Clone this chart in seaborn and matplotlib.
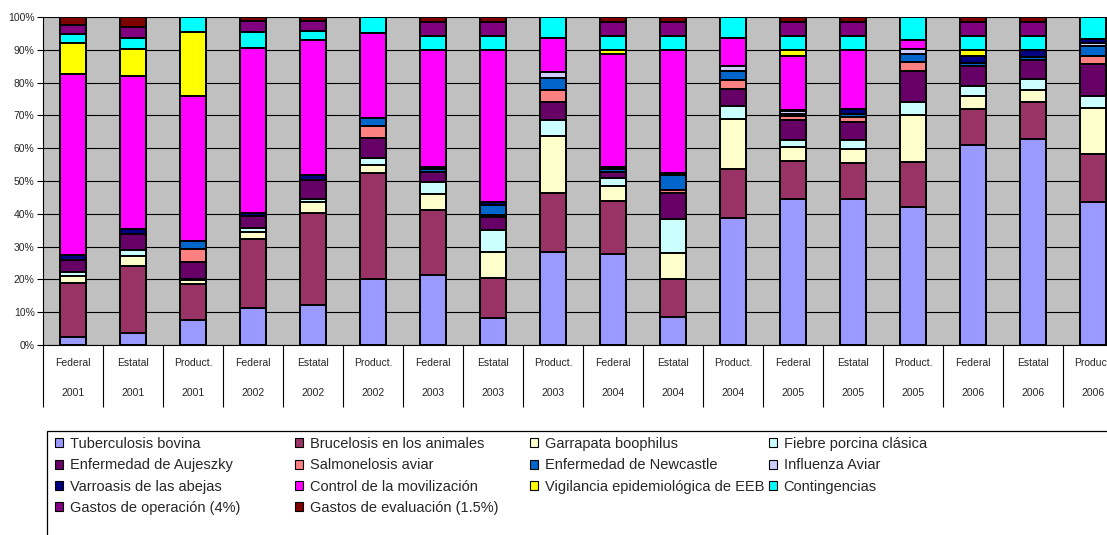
import numpy as np
import pandas as pd
import matplotlib
matplotlib.use("Agg")
import matplotlib.pyplot as plt
import matplotlib.patches as mpatches
from matplotlib.transforms import blended_transform_factory
import seaborn as sns

# ---------------- data ----------------
types = ["Federal", "Estatal", "Product."] * 6
years = ["2001"] * 3 + ["2002"] * 3 + ["2003"] * 3 + ["2004"] * 3 + ["2005"] * 3 + ["2006"] * 3

series_names = [
    "Tuberculosis bovina", "Brucelosis en los animales", "Garrapata boophilus",
    "Fiebre porcina clásica", "Enfermedad de Aujeszky", "Salmonelosis aviar",
    "Enfermedad de Newcastle", "Influenza Aviar", "Varroasis de las abejas",
    "Control de la movilización", "Vigilancia epidemiológica de EEB", "Contingencias",
    "Gastos de operación (4%)", "Gastos de evaluación (1.5%)",
]

tuberculosis = [2.3, 3.6, 7.6, 11.4, 12.1, 20.0, 21.2, 8.4, 28.3, 27.8, 8.4, 38.8, 44.4, 44.4, 42.0, 61.0, 62.7, 43.7]
brucelosis = [16.5, 20.6, 11.0, 20.8, 28.0, 32.3, 19.7, 12.1, 17.9, 16.0, 11.6, 14.8, 11.5, 11.0, 13.9, 10.8, 11.4, 14.5]
garrapata = [2.3, 2.9, 1.0, 2.4, 3.4, 2.5, 4.6, 8.0, 17.5, 4.8, 7.9, 15.2, 4.3, 4.3, 14.1, 4.1, 3.6, 14.2]
fiebre = [1.2, 1.9, 0.3, 1.0, 1.0, 2.2, 3.6, 6.6, 4.9, 2.2, 10.4, 4.1, 2.3, 2.8, 4.1, 3.1, 3.3, 3.5]
aujeszky = [3.6, 4.8, 5.4, 3.7, 5.8, 6.1, 3.2, 4.2, 5.5, 1.8, 7.9, 5.0, 6.1, 5.6, 9.3, 6.1, 5.9, 9.8]
salmonelosis = [0, 0, 3.7, 0, 0, 3.7, 0, 0.5, 3.6, 0, 1.1, 2.9, 1.2, 1.3, 3.0, 0, 0, 2.4]
newcastle = [0, 0, 2.6, 0, 0, 2.5, 0.8, 3.1, 3.6, 1.2, 4.4, 2.6, 0.6, 1.0, 2.3, 1.0, 1.0, 3.1]
influenza = [0, 0, 0, 0, 0, 0, 0, 0, 1.9, 0, 0, 1.7, 0.8, 0, 1.4, 0, 0, 1.0]
varroasis = [1.4, 1.6, 0, 0.8, 1.5, 0, 0.8, 0.8, 0, 0.4, 0.8, 0, 0.4, 1.4, 0, 2.0, 2.0, 1.0]
control = [55.4, 46.7, 43.8, 50.6, 41.2, 25.7, 35.1, 46.7, 10.3, 34.6, 37.4, 8.4, 16.3, 18.1, 2.9, 0, 0, 0]
vigilancia = [9.3, 8.0, 19.5, 0, 0, 0, 0, 0, 0, 1.1, 0, 0, 1.8, 0, 0, 1.8, 0, 0]
contingencias = [2.9, 3.4, 4.5, 4.7, 2.6, 5.0, 4.3, 4.3, 6.5, 4.3, 4.3, 6.5, 4.3, 4.3, 7.0, 4.3, 4.3, 6.8]
gastos_operacion = [2.7, 3.3, 0, 3.4, 3.2, 0, 4.4, 4.4, 0, 4.4, 4.4, 0, 4.4, 4.4, 0, 4.4, 4.4, 0]
gastos_evaluacion = [2.4, 3.2, 0, 1.2, 1.2, 0, 1.4, 1.4, 0, 1.4, 1.4, 0, 1.4, 1.4, 0, 1.4, 1.4, 0]

series_values = [tuberculosis, brucelosis, garrapata, fiebre, aujeszky, salmonelosis,
                 newcastle, influenza, varroasis, control, vigilancia, contingencias,
                 gastos_operacion, gastos_evaluacion]

colors = ["#9999FF", "#993366", "#FFFFCC", "#CCFFFF", "#660066", "#FF8080",
          "#0066CC", "#CCCCFF", "#000080", "#FF00FF", "#FFFF00", "#00FFFF",
          "#800080", "#800000"]

# ---------------- style ----------------
sns.set_style("white")
plt.rcParams["font.family"] = ["Liberation Sans", "DejaVu Sans"]

W, H = 1107, 535
fig = plt.figure(figsize=(W / 100, H / 100), dpi=100)
ax = fig.add_axes([43 / W, 190 / H, 1080 / W, 328 / H])

cats = [f"{t} {y}" for t, y in zip(types, years)]
vals = np.array(series_values, dtype=float)
vals = vals / vals.sum(axis=0) * 100.0   # 100% stacked
cum = np.cumsum(vals, axis=0)

ax.set_facecolor("#C0C0C0")
ax.set_axisbelow(True)
ax.yaxis.grid(True, color="black", linewidth=0.8)

for k in range(len(series_names) - 1, -1, -1):
    df = pd.DataFrame({"cat": cats, "val": cum[k]})
    sns.barplot(data=df, x="cat", y="val", order=cats, color=colors[k],
                saturation=1, width=0.43, edgecolor="black", linewidth=1.4,
                errorbar=None, ax=ax)

ax.set_xlim(-0.5, 17.5)
ax.set_ylim(0, 100)
ax.set_yticks(np.arange(0, 101, 10))
ax.set_yticklabels([f"{v}%" for v in range(0, 101, 10)], fontsize=7.5)
ax.set_xticks(range(18))
ax.set_xticklabels([f"{t}\n{y}" for t, y in zip(types, years)], fontsize=7.5,
                   linespacing=3.6)
ax.tick_params(axis="x", length=0, pad=9)
ax.tick_params(axis="y", length=4, width=0.8, color="black", pad=2, direction="out", left=True)
ax.set_xlabel("")
ax.set_ylabel("")
for s in ["top", "right"]:
    ax.spines[s].set_visible(False)
for s in ["left", "bottom"]:
    ax.spines[s].set_color("black")
    ax.spines[s].set_linewidth(0.8)

# category separators below axis
trans = blended_transform_factory(ax.transData, ax.transAxes)
ax.vlines(np.arange(-0.5, 18, 1.0), -62 / 328, 0, transform=trans, colors="black",
          linewidth=0.8, clip_on=False)

# legend frame
fig.add_artist(mpatches.Rectangle((46.5 / W, -0.05), 1.1, (535 - 431) / H + 0.05,
                                  transform=fig.transFigure, fill=False,
                                  edgecolor="black", linewidth=0.9))

handles = [mpatches.Patch(facecolor=c, edgecolor="black", linewidth=0.8) for c in colors]
col_x = [55, 295, 530, 769]
for ci in range(4):
    idx = [i for i in range(ci, 14, 4)]
    fig.legend([handles[i] for i in idx], [series_names[i] for i in idx],
               loc="upper left", bbox_to_anchor=(col_x[ci] / W, (535 - 437) / H),
               bbox_transform=fig.transFigure, frameon=False, fontsize=10.5,
               borderpad=0, borderaxespad=0, handlelength=0.55, handleheight=0.55,
               handletextpad=0.45, labelspacing=0.5)

fig.savefig("out.png", dpi=100)
